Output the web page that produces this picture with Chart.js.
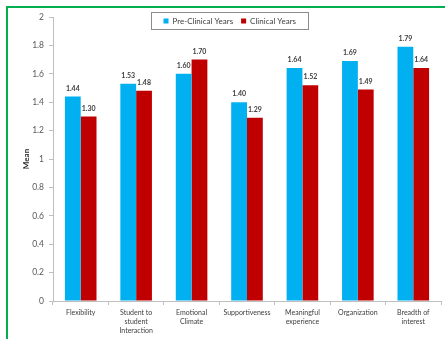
<!DOCTYPE html>
<html>
<head>
<meta charset="utf-8">
<script src="https://cdn.jsdelivr.net/npm/chart.js@4/dist/chart.umd.min.js"></script>
<style>
  body { margin: 0; background: #fff; overflow: hidden; }
  #frame { position: absolute; left: 6px; top: 6px; width: 500px; height: 400px; border: 2px solid #00b050; }
  #chart { position: absolute; left: 0; top: 0; }
</style>
</head>
<body>
<div id="frame"></div>
<canvas id="chart" width="445" height="339"></canvas>
<script>
const categories = [
    'Flexibility',
    ['Student to', 'student', 'Interaction'],
    ['Emotional', 'Climate'],
    'Supportiveness',
    ['Meaningful', 'experience'],
    'Organization',
    ['Breadth of', 'interest']
];
const seriesNames = ['Pre-Clinical Years', 'Clinical Years'];
const preClinical = [1.44, 1.53, 1.60, 1.40, 1.64, 1.69, 1.79];
const clinical = [1.30, 1.48, 1.70, 1.29, 1.52, 1.49, 1.64];
const colors = ['#00b0f0', '#c00000'];

const font = 'Lato, "Liberation Sans", sans-serif';

// value labels above bars
const barLabels = {
    id: 'barLabels',
    afterDatasetsDraw(chart) {
        const ctx = chart.ctx;
        ctx.save();
        ctx.font = 'bold 7px ' + font;
        ctx.fillStyle = '#404040';
        ctx.textAlign = 'center';
        ctx.textBaseline = 'middle';
        chart.data.datasets.forEach((ds, i) => {
            chart.getDatasetMeta(i).data.forEach((bar, j) => {
                ctx.fillText(ds.data[j].toFixed(2), bar.x, bar.y - 8);
            });
        });
        ctx.restore();
    }
};

// boxed legend that sits over the top of the plot
const boxLegend = {
    id: 'boxLegend',
    afterDraw(chart) {
        const ctx = chart.ctx;
        ctx.save();
        ctx.font = '8px ' + font;
        const box = 5, gap = 4, itemGap = 8, padX = 12;
        const items = chart.data.datasets.map(ds => ({
            label: ds.label, color: ds.backgroundColor, w: ctx.measureText(ds.label).width
        }));
        let total = padX * 2;
        items.forEach((it, i) => total += box + gap + it.w + (i ? itemGap : 0));
        const cx = 229, top = 12, h = 17;
        let x = Math.round(cx - total / 2) + 0.5;
        ctx.strokeStyle = '#8c8c8c';
        ctx.lineWidth = 1;
        ctx.strokeRect(x, top + 0.5, Math.round(total), h);
        x += padX;
        const mid = top + h / 2 + 0.5;
        ctx.textBaseline = 'middle';
        items.forEach((it, i) => {
            if (i) x += itemGap;
            ctx.fillStyle = it.color;
            ctx.fillRect(x, mid - box / 2, box, box);
            x += box + gap;
            ctx.fillStyle = '#404040';
            ctx.fillText(it.label, x, mid);
            x += it.w;
        });
        ctx.restore();
    }
};

new Chart(document.getElementById('chart'), {
    type: 'bar',
    data: {
        labels: categories,
        datasets: [
            { label: seriesNames[0], data: preClinical, backgroundColor: colors[0] },
            { label: seriesNames[1], data: clinical, backgroundColor: colors[1] }
        ]
    },
    options: {
        responsive: false,
        animation: false,
        devicePixelRatio: 1,
        layout: { padding: { left: 20, top: 17, right: 4, bottom: 0 } },
        datasets: { bar: { categoryPercentage: 0.57, barPercentage: 1 } },
        plugins: { legend: { display: false }, tooltip: { enabled: false } },
        scales: {
            x: {
                afterFit(scale) { scale.height = 38; },
                grid: { offset: true, drawOnChartArea: false, tickLength: 4, color: '#bfbfbf' },
                border: { color: '#bfbfbf' },
                ticks: {
                    color: '#404040', padding: 3, maxRotation: 0, autoSkip: false,
                    font: { family: font, size: 7, lineHeight: 1.3 }
                }
            },
            y: {
                min: 0, max: 2,
                afterFit(scale) { scale.width = 33; },
                grid: { drawOnChartArea: false, tickLength: 4, color: '#bfbfbf' },
                border: { color: '#bfbfbf' },
                ticks: {
                    stepSize: 0.2, color: '#595959', padding: 5,
                    font: { family: font, size: 8.5 },
                    callback: v => String(Math.round(v * 10) / 10)
                },
                title: {
                    display: true, text: 'Mean', color: '#262626',
                    padding: { top: 2, bottom: 0 },
                    font: { family: font, size: 8, weight: 'bold' }
                }
            }
        }
    },
    plugins: [barLabels, boxLegend]
});
</script>
</body>
</html>
